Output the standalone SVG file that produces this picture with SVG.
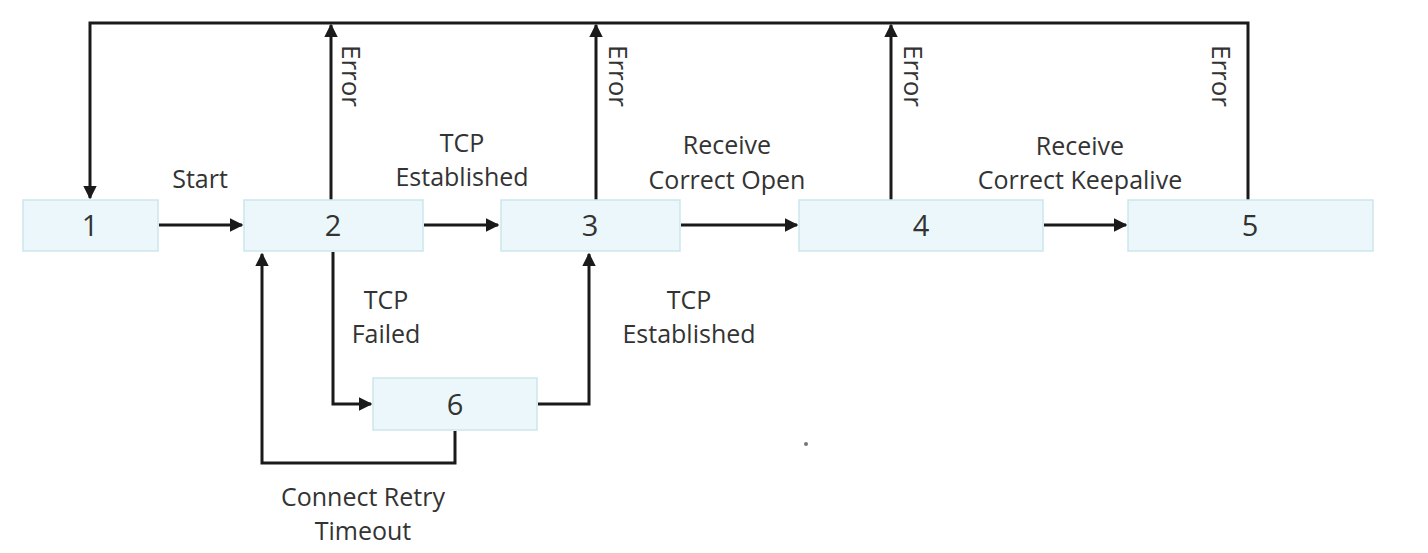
<svg xmlns="http://www.w3.org/2000/svg" width="1428" height="553" viewBox="0 0 1428 553">
<style>
.box{fill:#ecf7fb;stroke:#cbe6ee;stroke-width:1.5}
.num{font-family:"Open Sans","Noto Sans",sans-serif;font-size:29px;fill:#333;text-anchor:middle}
.lbl{font-family:"Open Sans","Noto Sans",sans-serif;font-size:25px;fill:#333;text-anchor:middle}
.err{font-family:"Open Sans","Noto Sans",sans-serif;font-size:26px;fill:#333}
.ln{fill:none;stroke:#1a1a1a;stroke-width:3}
</style>
<defs>
<marker id="ah" viewBox="0 0 10 10" refX="9" refY="5" markerWidth="4.5" markerHeight="4.5" orient="auto" markerUnits="strokeWidth">
<path d="M0,0 L10,5 L0,10 Z" fill="#1a1a1a"/>
</marker>
</defs>
<rect width="1428" height="553" fill="#ffffff"/>
<g id="connectors">
<path class="ln" d="M1248,200 V23 H90 V198" marker-end="url(#ah)"/>
<path class="ln" d="M331,200 V25" marker-end="url(#ah)"/>
<path class="ln" d="M596,200 V25" marker-end="url(#ah)"/>
<path class="ln" d="M891,200 V25" marker-end="url(#ah)"/>
<path class="ln" d="M159,225 H242" marker-end="url(#ah)"/>
<path class="ln" d="M424,225 H498" marker-end="url(#ah)"/>
<path class="ln" d="M681,225 H797" marker-end="url(#ah)"/>
<path class="ln" d="M1044,225 H1126" marker-end="url(#ah)"/>
<path class="ln" d="M333,252 V404 H371" marker-end="url(#ah)"/>
<path class="ln" d="M538,404 H589 V254" marker-end="url(#ah)"/>
<path class="ln" d="M455,431 V463 H262 V254" marker-end="url(#ah)"/>
</g>
<g id="node1"><rect class="box" x="23" y="200" width="135" height="51"/><text class="num" x="90" y="236">1</text></g>
<g id="node2"><rect class="box" x="244" y="200" width="179" height="51"/><text class="num" x="333" y="236">2</text></g>
<g id="node3"><rect class="box" x="501" y="200" width="179" height="51"/><text class="num" x="590" y="236">3</text></g>
<g id="node4"><rect class="box" x="799" y="200" width="244" height="51"/><text class="num" x="921" y="236">4</text></g>
<g id="node5"><rect class="box" x="1128" y="200" width="245" height="51"/><text class="num" x="1250" y="236">5</text></g>
<g id="node6"><rect class="box" x="373" y="378" width="164" height="52"/><text class="num" x="455" y="415">6</text></g>
<g id="labels">
<text class="lbl" x="200" y="188">Start</text>
<text class="lbl" x="462" y="152">TCP</text>
<text class="lbl" x="462" y="186">Established</text>
<text class="lbl" x="727" y="154">Receive</text>
<text class="lbl" x="727" y="189">Correct Open</text>
<text class="lbl" x="1080" y="155">Receive</text>
<text class="lbl" x="1080" y="189">Correct Keepalive</text>
<text class="lbl" x="386" y="309">TCP</text>
<text class="lbl" x="386" y="343">Failed</text>
<text class="lbl" x="689" y="309">TCP</text>
<text class="lbl" x="689" y="343">Established</text>
<text class="lbl" x="363" y="506">Connect Retry</text>
<text class="lbl" x="363" y="540">Timeout</text>
<text class="err" transform="translate(342,45) rotate(90)">Error</text>
<text class="err" transform="translate(609,45) rotate(90)">Error</text>
<text class="err" transform="translate(904,45) rotate(90)">Error</text>
<text class="err" transform="translate(1212,45) rotate(90)">Error</text>
</g>
<circle cx="806" cy="444" r="2" fill="#777"/>
</svg>
